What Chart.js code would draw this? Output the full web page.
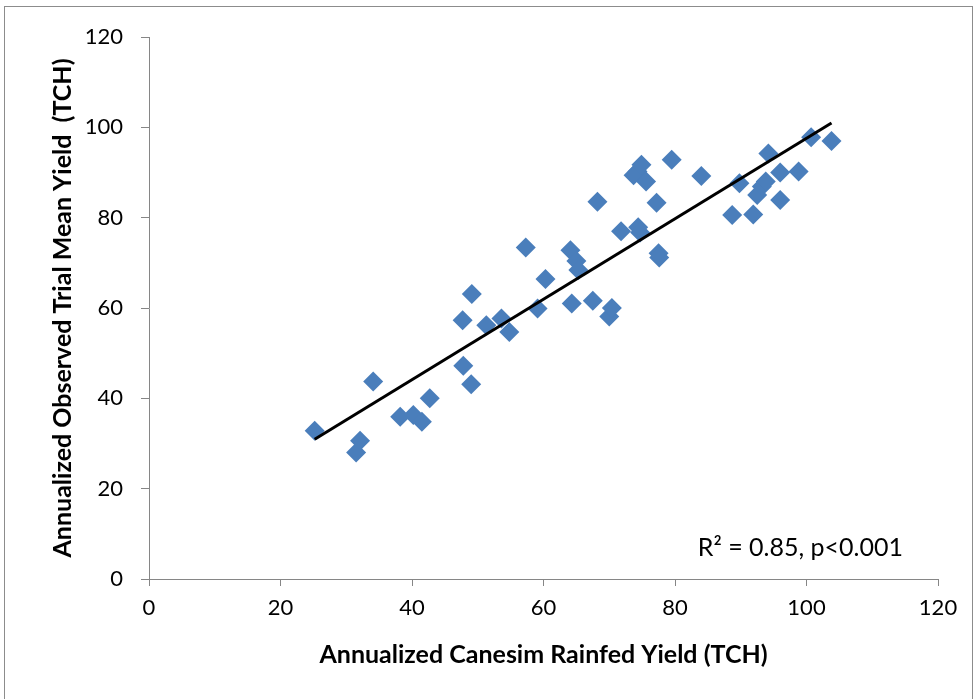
<!DOCTYPE html>
<html>
<head>
<meta charset="utf-8">
<script src="https://cdn.jsdelivr.net/npm/chart.js@4"></script>
<style>
  html, body { margin: 0; padding: 0; background: #fff; }
  #wrap { width: 974px; height: 699px; }
</style>
</head>
<body>
<div id="wrap"><canvas id="yieldChart"></canvas></div>
<script>
// Simulated (Canesim rainfed) vs observed yield, TCH
const simYield = [25.2, 31.5, 32.1, 34.1, 38.2, 40.2, 41.5, 42.7, 47.7, 47.8, 49.0, 49.1,
  51.3, 53.6, 54.8, 57.3, 59.1, 60.3, 64.1, 65.0, 65.3, 64.3, 67.5, 68.2, 70.0, 70.4,
  71.8, 73.7, 74.3, 74.4, 74.7, 74.9, 75.6, 77.2, 77.5, 77.6, 79.5, 84.0, 88.7, 89.8,
  91.9, 92.5, 93.2, 93.8, 94.2, 96.0, 96.0, 98.8, 100.7, 103.8];
const obsYield = [32.8, 28.0, 30.6, 43.7, 35.9, 36.3, 34.8, 40.0, 57.3, 47.2, 43.1, 63.1,
  56.2, 57.7, 54.7, 73.4, 59.9, 66.4, 72.8, 70.4, 68.4, 61.0, 61.6, 83.5, 58.1, 60.0,
  77.0, 89.4, 90.2, 77.9, 76.7, 91.7, 88.0, 83.3, 72.1, 71.2, 92.8, 89.2, 80.6, 87.6,
  80.7, 85.0, 86.9, 88.0, 94.2, 90.0, 83.9, 90.2, 97.8, 97.0];
const axisTicks = [0, 20, 40, 60, 80, 100, 120];
const statsLabel = 'R\u00b2 = 0.85, p<0.001';

// least squares fit, drawn over the range of the data (like Excel's trendline)
const n = simYield.length;
const mx = simYield.reduce((a, b) => a + b, 0) / n;
const my = obsYield.reduce((a, b) => a + b, 0) / n;
let sxy = 0, sxx = 0;
simYield.forEach((x, i) => { sxy += (x - mx) * (obsYield[i] - my); sxx += (x - mx) * (x - mx); });
const slope = sxy / sxx;
const icpt = my - slope * mx;
const xMin = Math.min(...simYield), xMax = Math.max(...simYield);
const trend = [{ x: xMin, y: icpt + slope * xMin }, { x: xMax, y: icpt + slope * xMax }];

const points = simYield.map((x, i) => ({ x, y: obsYield[i] }));

const FONT = 'Lato, "Open Sans", sans-serif';
const AXIS = '#868686';

// frame round the whole chart + the R² note
const extras = {
  id: 'extras',
  beforeDraw(chart) {
    const c = chart.ctx;
    c.save();
    c.fillStyle = '#fff';
    c.fillRect(0, 0, chart.width, chart.height);
    c.strokeStyle = '#8c8c8c';
    c.lineWidth = 1;
    c.strokeRect(4.5, 6.5, chart.width - 6, chart.height);
    c.restore();
  },
  afterDraw(chart) {
    const c = chart.ctx;
    const area = chart.chartArea;
    c.save();
    c.font = '25px ' + FONT;
    c.fillStyle = '#000';
    c.textAlign = 'right';
    c.textBaseline = 'middle';
    c.fillText(statsLabel, area.right - 35, area.bottom - 31);
    c.restore();
  }
};

new Chart(document.getElementById('yieldChart'), {
  type: 'scatter',
  data: {
    datasets: [
      {
        label: 'Trend',
        type: 'line',
        data: trend,
        borderColor: '#000',
        borderWidth: 3,
        pointRadius: 0,
        fill: false,
        order: 0
      },
      {
        label: 'Yield',
        data: points,
        pointStyle: 'rectRot',
        pointRadius: 10,
        pointHoverRadius: 10,
        backgroundColor: '#4a7ebb',
        borderColor: '#4a7ebb',
        borderWidth: 0,
        order: 1
      }
    ]
  },
  options: {
    responsive: true,
    maintainAspectRatio: false,
    animation: false,
    layout: { padding: { left: 44, top: 37, right: 36, bottom: 25 } },
    plugins: {
      legend: { display: false },
      tooltip: { enabled: false }
    },
    scales: {
      x: {
        type: 'linear',
        min: 0, max: 120,
        afterBuildTicks: s => { s.ticks = axisTicks.map(v => ({ value: v })); },
        afterFit: s => { s.height = 95; },
        border: { color: AXIS, width: 1 },
        grid: { drawOnChartArea: false, drawTicks: true, tickLength: 7, color: AXIS },
        ticks: { color: '#000', font: { family: FONT, size: 22 }, padding: 9 },
        title: {
          display: true,
          text: 'Annualized Canesim Rainfed Yield (TCH)',
          color: '#000',
          font: { family: FONT, size: 25, weight: 'bold' },
          padding: { top: 12, bottom: 4 }
        }
      },
      y: {
        type: 'linear',
        min: 0, max: 120,
        afterBuildTicks: s => { s.ticks = axisTicks.map(v => ({ value: v })); },
        afterFit: s => { s.width = 105; },
        border: { color: AXIS, width: 1 },
        grid: { drawOnChartArea: false, drawTicks: true, tickLength: 8, color: AXIS },
        ticks: { color: '#000', font: { family: FONT, size: 22 }, padding: 18 },
        title: {
          display: true,
          text: 'Annualized Observed Trial Mean Yield  (TCH)',
          color: '#000',
          font: { family: FONT, size: 25, weight: 'bold' },
          padding: { top: 4, bottom: 14 }
        }
      }
    }
  },
  plugins: [extras]
});
</script>
</body>
</html>
